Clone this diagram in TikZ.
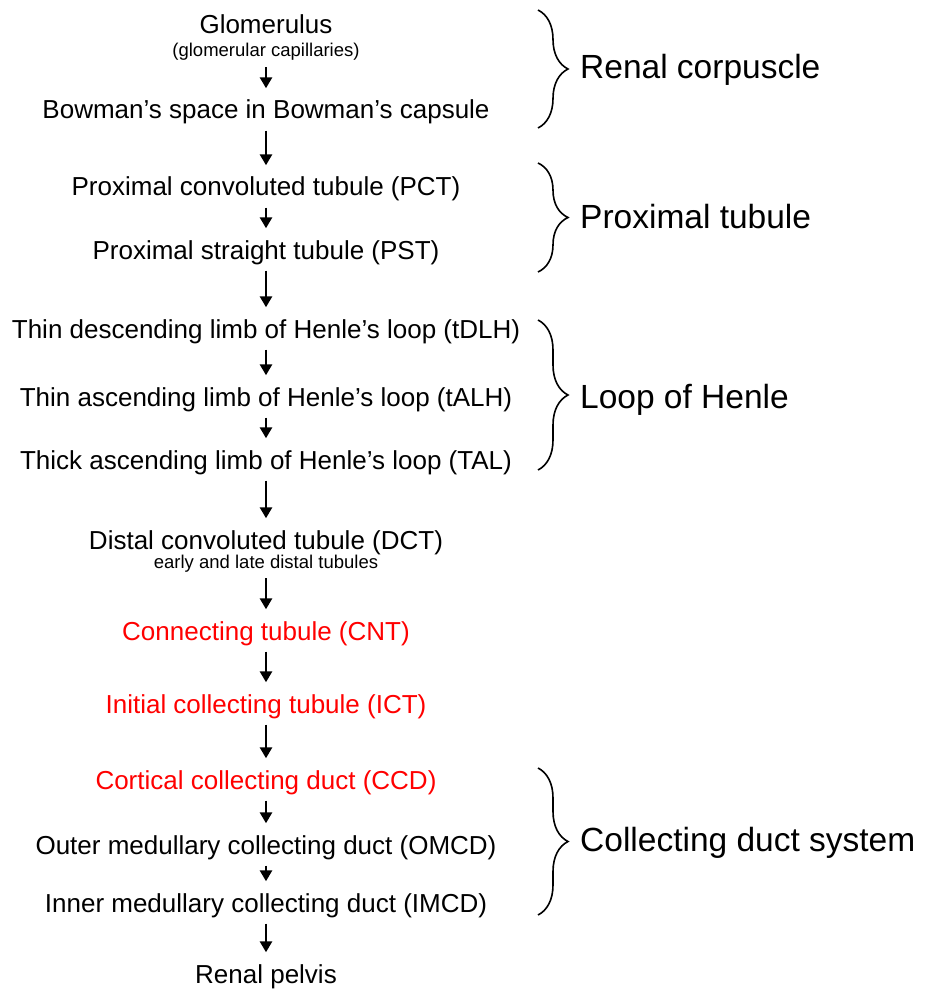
\documentclass[tikz,border=0pt]{standalone}
\usepackage{fontspec}
\setmainfont{Liberation Sans}
\usetikzlibrary{arrows.meta,decorations.pathreplacing}

\begin{document}
\begin{tikzpicture}[x=1pt,y=1pt,
 seg/.style={anchor=base,inner sep=0pt,font=\fontsize{26}{30}\selectfont,text height=18.5pt,text depth=5.5pt},
 sub/.style={anchor=base,inner sep=0pt,font=\fontsize{18.5}{21}\selectfont,text height=12pt,text depth=4pt},
 hl/.style={text=red},
 arr/.style={-{Triangle[length=11pt,width=12pt]},line width=2.8pt,shorten <=6pt,shorten >=12pt},
 grp/.style={anchor=west,inner sep=0pt,font=\fontsize{33.5}{38}\selectfont},
 brc/.style={decorate,decoration={brace,amplitude=30pt},line width=1.6pt}]
\useasboundingbox (0,0) rectangle (927,-992);
% nephron segments, top to bottom
\node[seg] (glom) at (266,-34) {Glomerulus};
\node[sub] (glomsub) at (266,-57) {(glomerular capillaries)};
\node[seg] (bow) at (266,-119) {Bowman’s space in Bowman’s capsule};
\node[seg] (pct) at (266,-196) {Proximal convoluted tubule (PCT)};
\node[seg] (pst) at (266,-259) {Proximal straight tubule (PST)};
\node[seg] (tdlh) at (266,-338) {Thin descending limb of Henle’s loop (tDLH)};
\node[seg] (talh) at (266,-406) {Thin ascending limb of Henle’s loop (tALH)};
\node[seg] (tal) at (266,-469) {Thick ascending limb of Henle’s loop (TAL)};
\node[seg] (dct) at (266,-549) {Distal convoluted tubule (DCT)};
\node[sub] (dctsub) at (266,-568) {early and late distal tubules};
\node[seg,hl] (cnt) at (266,-640) {Connecting tubule (CNT)};
\node[seg,hl] (ict) at (266,-713) {Initial collecting tubule (ICT)};
\node[seg,hl] (ccd) at (266,-789) {Cortical collecting duct (CCD)};
\node[seg] (omcd) at (266,-854) {Outer medullary collecting duct (OMCD)};
\node[seg] (imcd) at (266,-912) {Inner medullary collecting duct (IMCD)};
\node[seg] (pelvis) at (266,-983) {Renal pelvis};
% flow
\draw[arr] (glomsub)--(bow); \draw[arr] (bow)--(pct);
\draw[arr] (pct)--(pst); \draw[arr] (pst)--(tdlh);
\draw[arr] (tdlh)--(talh); \draw[arr] (talh)--(tal);
\draw[arr] (tal)--(dct); \draw[arr] (dctsub)--(cnt);
\draw[arr] (cnt)--(ict); \draw[arr] (ict)--(ccd);
\draw[arr] (ccd)--(omcd); \draw[arr] (omcd)--(imcd);
\draw[arr] (imcd)--(pelvis);
% groups
\coordinate (rc1) at (538,-10); \coordinate (rc2) at (538,-128);
\coordinate (pt1) at (538,-163); \coordinate (pt2) at (538,-272);
\coordinate (lh1) at (538,-320); \coordinate (lh2) at (538,-470);
\coordinate (cd1) at (538,-768); \coordinate (cd2) at (538,-915);
\draw[brc] (rc1)--(rc2); \draw[brc] (pt1)--(pt2);
\draw[brc] (lh1)--(lh2); \draw[brc] (cd1)--(cd2);
\node[grp] (rclab) at (580,-70) {Renal corpuscle};
\node[grp] (ptlab) at (580,-217) {Proximal tubule};
\node[grp] (lhlab) at (580,-400) {Loop of Henle};
\node[grp] (cdlab) at (580,-843) {Collecting duct system};
\end{tikzpicture}
\end{document}
